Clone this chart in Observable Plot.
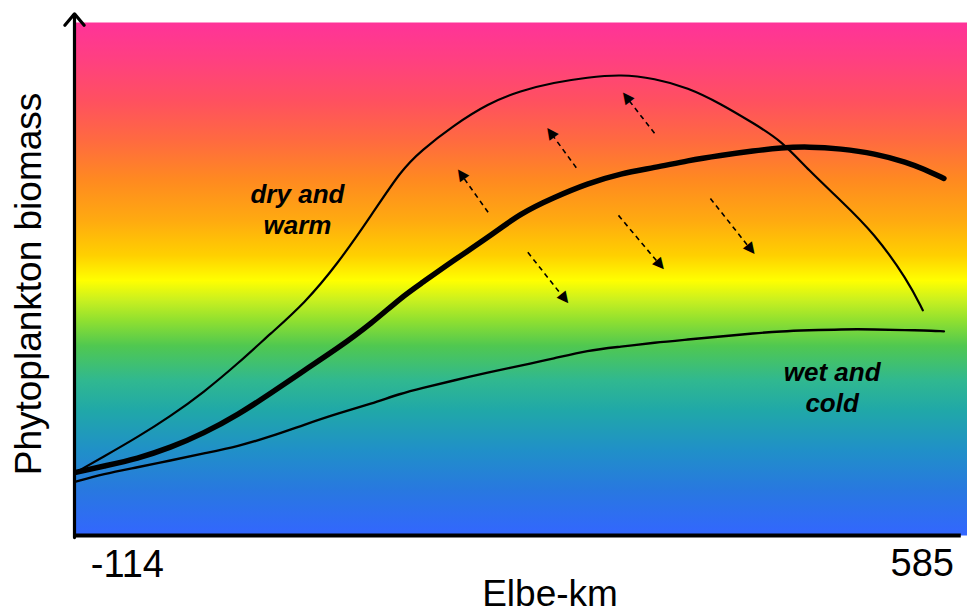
<!DOCTYPE html>
<html><head><meta charset="utf-8">
<script src="https://cdn.jsdelivr.net/npm/d3@7"></script>
<script src="https://cdn.jsdelivr.net/npm/@observablehq/plot@0.6"></script>
<style>body{margin:0;background:#fff;} svg{display:block}</style>
</head><body><div id="chart"></div>
<script>
// ---- data ----
const km = [-114, -92, -64, -38, -11, 17, 43, 70, 97, 124, 148, 164, 190, 218, 244, 271, 298, 325, 352, 379, 405, 432, 454, 476, 502, 529, 556, 568, 585];
const dryWarm = [12.3, 15.3, 19.2, 23.2, 27.9, 33.6, 39.4, 45.2, 53.0, 62.4, 71.2, 75.0, 79.9, 84.2, 86.7, 88.3, 89.3, 89.9, 89.1, 87.3, 84.2, 80.3, 77.0, 71.2, 65.3, 58.9, 49.7, 43.9, null];
const average = [12.3, 13.5, 15.0, 17.1, 19.9, 23.6, 27.7, 32.2, 36.5, 41.3, 46.4, 49.1, 53.6, 58.1, 62.8, 65.9, 68.6, 70.6, 71.7, 73.1, 74.1, 75.0, 75.6, 75.8, 75.4, 74.5, 72.7, 71.5, 69.6];
const wetCold = [10.5, 12.0, 13.3, 14.6, 16.0, 17.4, 19.3, 21.6, 23.8, 25.7, 27.7, 28.7, 30.2, 31.8, 33.1, 34.5, 36.1, 36.8, 37.6, 38.2, 38.8, 39.4, 39.8, 40.0, 40.2, 40.2, 40.0, 40.0, 39.8];

const arrowX1 = [218, 289, 352, 250, 323, 397];
const arrowY1 = [63.0, 71.7, 78.4, 55.2, 62.4, 65.7];
const arrowX2 = [194, 266, 327, 282, 359, 432];
const arrowY2 = [71.2, 79.3, 86.2, 45.4, 52.0, 55.0];

const labelText = ["dry and\nwarm", "wet and\ncold"];
const labelKm = [64.5, 495];
const labelV = [69.2, 34.5];

const xTicks = [-114, 585];
const xLabel = "Elbe-km";
const yLabel = "Phytoplankton biomass";

// ---- layout ----
const W = 967, H = 613, mL = 74, mR = 0, mT = 22, mB = 78;
const xDomain = [-115, 604], yDomain = [0, 100];
const axisEnd = 599, axisTop = 101.7;
const sx = (W - mL - mR) / (xDomain[1] - xDomain[0]);
const sy = (H - mT - mB) / (yDomain[1] - yDomain[0]);

const rows = km.map((k, i) => ({km: k, dry: dryWarm[i], avg: average[i], wet: wetCold[i]}));
const arrows = arrowX1.map((_, i) => {
  const dx = (arrowX2[i] - arrowX1[i]) * sx, dy = -(arrowY2[i] - arrowY1[i]) * sy;
  const L = Math.hypot(dx, dy), ux = dx / L, uy = dy / L;
  return {
    x1: arrowX1[i], y1: arrowY1[i],
    x2: arrowX2[i], y2: arrowY2[i],
    hx: arrowX2[i] - 4 * ux / sx, hy: arrowY2[i] + 4 * uy / sy,
    r: Math.atan2(dx, -dy) * 180 / Math.PI
  };
});
const labels = labelText.map((t, i) => ({t, x: labelKm[i], y: labelV[i]}));

const font = "'Liberation Sans', Arial, Helvetica, sans-serif";

const svg = Plot.plot({
  width: W, height: H,
  marginLeft: mL, marginRight: mR, marginTop: mT, marginBottom: mB,
  x: {domain: xDomain, axis: null},
  y: {domain: yDomain, axis: null},
  style: {fontFamily: font, background: "white", color: "black"},
  marks: [
    Plot.frame({fill: "url(#bg)", stroke: "none"}),
    Plot.line(rows, {x: "km", y: "wet", curve: "basis", stroke: "black", strokeWidth: 2.4}),
    Plot.line(rows, {x: "km", y: "dry", curve: "basis", stroke: "black", strokeWidth: 2.2}),
    Plot.line(rows, {x: "km", y: "avg", curve: "basis", stroke: "black", strokeWidth: 5.5}),
    Plot.link(arrows, {x1: "x1", y1: "y1", x2: "hx", y2: "hy", stroke: "black", strokeWidth: 1.6, strokeDasharray: "5,4"}),
    Plot.text(arrows, {x: "hx", y: "hy", text: () => "\u25B2", rotate: "r", fontSize: 15, fill: "black", lineAnchor: "middle", fontFamily: "DejaVu Sans"}),
    Plot.text(labels, {x: "x", y: "y", text: "t", fontSize: 26, fontWeight: "bold", fontStyle: "italic", lineAnchor: "top", lineHeight: 1.2, fill: "black"}),
    Plot.ruleY([yDomain[0]], {x1: xDomain[0], x2: axisEnd, stroke: "black", strokeWidth: 4}),
    Plot.arrow([0], {x1: () => xDomain[0], x2: () => xDomain[0], y1: () => -0.4, y2: () => axisTop, stroke: "black", strokeWidth: 3.2, headLength: 7, headAngle: 80}),
    Plot.text(xTicks.slice(0, 1), {x: d => d, text: d => String(d), frameAnchor: "bottom", textAnchor: "start", lineAnchor: "bottom", dx: 15, dy: 41, fontSize: 38, fill: "black"}),
    Plot.text(xTicks.slice(1), {x: d => d, text: d => String(d), frameAnchor: "bottom", textAnchor: "end", lineAnchor: "bottom", dx: 10, dy: 40, fontSize: 38, fill: "black"}),
    Plot.text([xLabel], {text: d => d, frameAnchor: "bottom", textAnchor: "middle", lineAnchor: "bottom", dx: 29, dy: 70, fontSize: 37, fill: "black"}),
    Plot.text([yLabel], {text: d => d, frameAnchor: "left", rotate: -90, textAnchor: "middle", lineAnchor: "bottom", dx: -34, dy: 5, fontSize: 37, fill: "black"})
  ]
});

const stops = [
  [0, "#ff3399"], [0.074, "#ff4080"], [0.152, "#ff5060"], [0.23, "#ff6a40"],
  [0.308, "#ff8a20"], [0.386, "#ffaa10"], [0.454, "#ffd000"], [0.503, "#ffff00"],
  [0.542, "#c8f020"], [0.581, "#90e030"], [0.63, "#50c850"], [0.698, "#30b890"],
  [0.756, "#20a8a8"], [0.834, "#2090c8"], [0.912, "#2878e0"], [1, "#3366ff"]
];
const defs = d3.select(svg).insert("defs", ":first-child");
const grad = defs.append("linearGradient").attr("id", "bg").attr("x1", 0).attr("y1", 0).attr("x2", 0).attr("y2", 1);
stops.forEach(([o, c]) => grad.append("stop").attr("offset", o).attr("stop-color", c));

document.getElementById("chart").appendChild(svg);
</script>
</body></html>
